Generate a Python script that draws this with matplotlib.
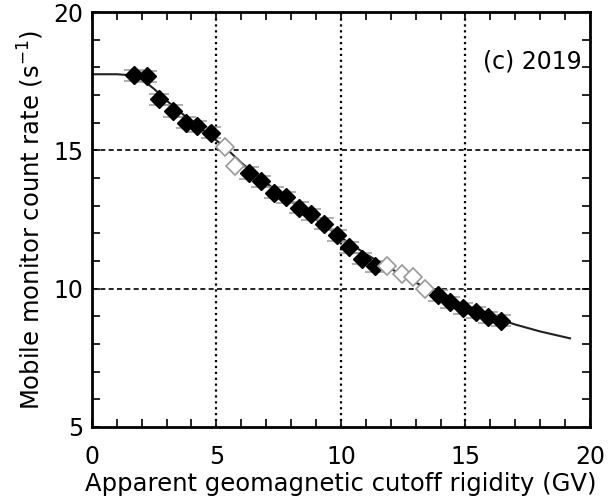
import matplotlib
matplotlib.use('Agg')
from matplotlib import pyplot as plt
from matplotlib.ticker import MultipleLocator

# Survey points: cutoff rigidity (GV) and count rate (1/s)
rig_in = [1.70, 2.22, 2.70, 3.24, 3.78, 4.24, 4.78, 6.32, 6.79, 7.30, 7.80,
          8.33, 8.80, 9.32, 9.83, 10.32, 10.86, 11.37, 13.91, 14.40, 14.91,
          15.41, 15.92, 16.41]
rate_in = [17.72, 17.68, 16.85, 16.42, 15.99, 15.87, 15.64, 14.18, 13.88,
           13.47, 13.30, 12.92, 12.68, 12.34, 11.92, 11.50, 11.08, 10.80,
           9.75, 9.50, 9.29, 9.14, 8.96, 8.84]
err_in = [0.2] * len(rig_in)

# Points left out of the fit
rig_out = [5.34, 5.74, 11.87, 12.44, 12.91, 13.37]
rate_out = [15.12, 14.43, 10.83, 10.53, 10.41, 9.99]

# Fitted response curve
fit_x = [0.0, 1.0, 1.5, 2.0, 2.5, 3.0, 3.5, 4.0, 4.5, 5.0, 5.5, 6.0, 7.0, 8.0,
         9.0, 10.0, 11.0, 12.0, 13.0, 14.0, 15.0, 16.0, 17.0, 18.0, 19.2]
fit_y = [17.75, 17.75, 17.72, 17.58, 17.22, 16.80, 16.42, 16.05, 15.70,
         15.36, 14.98, 14.55, 13.82, 13.15, 12.50, 11.85, 11.25, 10.72,
         10.22, 9.76, 9.36, 9.00, 8.70, 8.45, 8.20]

fig = plt.figure(figsize=(6.12, 5.01), dpi=100)
ax = fig.add_axes([0.150, 0.148, 0.814, 0.828])

for gx in (5, 10, 15):
    ax.axvline(gx, color='black', linestyle=':', linewidth=1.6, zorder=1)
for gy in (10, 15):
    ax.axhline(gy, color='black', linestyle=(0, (3, 2)), linewidth=1.2, zorder=1)

ax.plot(fit_x, fit_y, color='#222222', linewidth=1.5, zorder=2)

ax.errorbar(rig_in, rate_in, yerr=err_in, fmt='none', ecolor='#999999',
            elinewidth=1, capsize=7, capthick=1.1, zorder=3)
ax.plot(rig_in, rate_in, 'D', color='black', markersize=9.5, zorder=4)
ax.plot(rig_out, rate_out, 'D', markerfacecolor='white',
        markeredgecolor='#999999', markeredgewidth=1.2, markersize=9.5, zorder=4)

ax.text(19.65, 18.2, '(c) 2019', ha='right', va='center', fontsize=17)

ax.set_xlim(0, 20)
ax.set_ylim(5, 20)
ax.xaxis.set_major_locator(MultipleLocator(5))
ax.xaxis.set_minor_locator(MultipleLocator(1))
ax.yaxis.set_major_locator(MultipleLocator(5))
ax.yaxis.set_minor_locator(MultipleLocator(1))
ax.tick_params(which='both', direction='in', top=True, right=True,
               length=6, width=1.2, labelsize=17)
ax.tick_params(axis='x', pad=13)
ax.tick_params(axis='y', pad=6)
for s in ax.spines.values():
    s.set_linewidth(2)

ax.set_xlabel('Apparent geomagnetic cutoff rigidity (GV)', fontsize=17.5, labelpad=2)
ax.set_ylabel('Mobile monitor count rate (s$^{-1}$)', fontsize=17.5, labelpad=5)

fig.savefig('out.png', dpi=100)
